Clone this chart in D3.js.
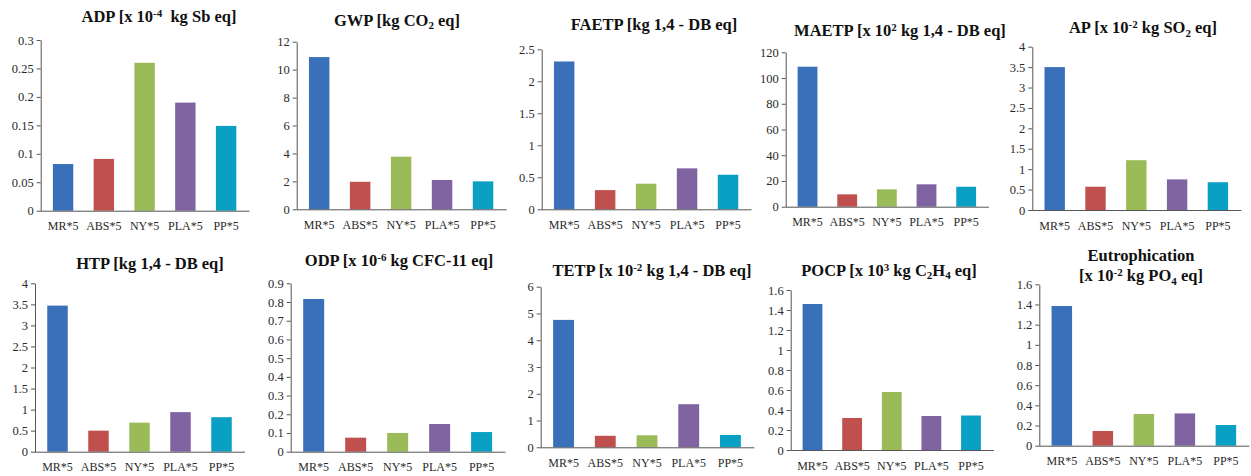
<!DOCTYPE html>
<html>
<head>
<meta charset="utf-8">
<script src="https://cdn.jsdelivr.net/npm/d3@7"></script>
<style>
  html, body { margin: 0; padding: 0; background: #fff; }
  svg { display: block; }
  text { font-family: "Liberation Serif", "Times New Roman", serif; white-space: pre; }
</style>
</head>
<body>
<svg id="chart" width="1251" height="476"></svg>
<script>
// Categories shared by every impact panel
const categories = ["MR*5", "ABS*5", "NY*5", "PLA*5", "PP*5"];

// Impact values per category (MR, ABS, NY, PLA, PP)
const adpValues   = [0.082, 0.091, 0.26, 0.19, 0.149];
const gwpValues   = [10.9, 1.97, 3.77, 2.1, 2.0];
const faetpValues = [2.31, 0.30, 0.40, 0.64, 0.54];
const maetpValues = [108.8, 9.6, 13.5, 17.4, 15.5];
const apValues    = [3.5, 0.57, 1.22, 0.75, 0.68];
const htpValues   = [3.47, 0.50, 0.69, 0.94, 0.82];
const odpValues   = [0.816, 0.075, 0.10, 0.148, 0.105];
const tetpValues  = [4.76, 0.43, 0.45, 1.61, 0.46];
const pocpValues  = [1.46, 0.32, 0.58, 0.34, 0.345];
const eutValues   = [1.385, 0.146, 0.314, 0.32, 0.205];

// Y-axis tick values
const adpTicks   = [0, 0.05, 0.1, 0.15, 0.2, 0.25, 0.3];
const gwpTicks   = [0, 2, 4, 6, 8, 10, 12];
const faetpTicks = [0, 0.5, 1, 1.5, 2, 2.5];
const maetpTicks = [0, 20, 40, 60, 80, 100, 120];
const apTicks    = [0, 0.5, 1, 1.5, 2, 2.5, 3, 3.5, 4];
const htpTicks   = [0, 0.5, 1, 1.5, 2, 2.5, 3, 3.5, 4];
const odpTicks   = [0, 0.1, 0.2, 0.3, 0.4, 0.5, 0.6, 0.7, 0.8, 0.9];
const tetpTicks  = [0, 1, 2, 3, 4, 5, 6];
const pocpTicks  = [0, 0.2, 0.4, 0.6, 0.8, 1, 1.2, 1.4, 1.6];
const eutTicks   = [0, 0.2, 0.4, 0.6, 0.8, 1, 1.2, 1.4, 1.6];

// Titles: each line is a list of [text, mode] with mode "", "sup" or "sub"
const adpTitle   = [[["ADP [x 10", ""], ["-4", "sup"], ["  kg Sb eq]", ""]]];
const gwpTitle   = [[["GWP [kg CO", ""], ["2", "sub"], [" eq]", ""]]];
const faetpTitle = [[["FAETP [kg 1,4 - DB eq]", ""]]];
const maetpTitle = [[["MAETP [x 10", ""], ["2", "sup"], [" kg 1,4 - DB eq]", ""]]];
const apTitle    = [[["AP [x 10", ""], ["-2", "sup"], [" kg SO", ""], ["2", "sub"], [" eq]", ""]]];
const htpTitle   = [[["HTP [kg 1,4 - DB eq]", ""]]];
const odpTitle   = [[["ODP [x 10", ""], ["-6", "sup"], [" kg CFC-11 eq]", ""]]];
const tetpTitle  = [[["TETP [x 10", ""], ["-2", "sup"], [" kg 1,4 - DB eq]", ""]]];
const pocpTitle  = [[["POCP [x 10", ""], ["3", "sup"], [" kg C", ""], ["2", "sub"], ["H", ""], ["4", "sub"], [" eq]", ""]]];
const eutTitle   = [[["Eutrophication", ""]],
                    [["[x 10", ""], ["-2", "sup"], [" kg PO", ""], ["4", "sub"], [" eq]", ""]]];

// Bar colours per category
const barColors = ["#3a70b9", "#c0504d", "#9bbb59", "#8064a2", "#0aa0c4"];

// Panel frames: y-axis x, plot top, baseline, band end, title centre and baseline(s)
const panels = [
  { values: adpValues,   ticks: adpTicks,   title: adpTitle,   ax: 40.7,   top: 40,    base: 210.7, right: 246.5,  tx: 159,  ty: [22] },
  { values: gwpValues,   ticks: gwpTicks,   title: gwpTitle,   ax: 296.7,  top: 41.7,  base: 209.3, right: 503.5,  tx: 397,  ty: [25.5] },
  { values: faetpValues, ticks: faetpTicks, title: faetpTitle, ax: 541.7,  top: 49.3,  base: 209.3, right: 748.5,  tx: 654,  ty: [29.5] },
  { values: maetpValues, ticks: maetpTicks, title: maetpTitle, ax: 785.7,  top: 52.3,  base: 206.7, right: 986,    tx: 900,  ty: [35.5] },
  { values: apValues,    ticks: apTicks,    title: apTitle,    ax: 1032.3, top: 46.7,  base: 210,   right: 1238.3, tx: 1143, ty: [33] },
  { values: htpValues,   ticks: htpTicks,   title: htpTitle,   ax: 35,     top: 283.3, base: 451.7, right: 242,    tx: 150,  ty: [268.5] },
  { values: odpValues,   ticks: odpTicks,   title: odpTitle,   ax: 290.7,  top: 283.3, base: 451.7, right: 502.6,  tx: 399,  ty: [266] },
  { values: tetpValues,  ticks: tetpTicks,  title: tetpTitle,  ax: 540.7,  top: 286.7, base: 447.3, right: 751.3,  tx: 652,  ty: [275.5] },
  { values: pocpValues,  ticks: pocpTicks,  title: pocpTitle,  ax: 790.7,  top: 290,   base: 450,   right: 990.8,  tx: 889,  ty: [275.5] },
  { values: eutValues,   ticks: eutTicks,   title: eutTitle,   ax: 1039.3, top: 284.3, base: 445.7, right: 1246.4, tx: 1141, ty: [261, 281] }
];

const svg = d3.select("#chart");
const fmt = d => String(+d.toFixed(4));

panels.forEach(p => {
  const g = svg.append("g");

  const x = d3.scaleBand()
    .domain(categories)
    .range([p.ax + 2, p.right])
    .paddingInner(0.5)
    .paddingOuter(0.25);

  const y = d3.scaleLinear()
    .domain([0, d3.max(p.ticks)])
    .range([p.base, p.top]);

  // Bars
  g.selectAll("rect.bar")
    .data(p.values)
    .join("rect")
    .attr("class", "bar")
    .attr("x", (d, i) => x(categories[i]))
    .attr("y", d => y(d))
    .attr("width", x.bandwidth())
    .attr("height", d => y(0) - y(d))
    .attr("fill", (d, i) => barColors[i]);

  // Value axis
  const yAxis = g.append("g")
    .attr("transform", `translate(${p.ax},0)`)
    .call(d3.axisLeft(y).tickValues(p.ticks).tickFormat(fmt).tickSize(4).tickPadding(3).tickSizeOuter(0));
  yAxis.select(".domain").attr("stroke", "#555").attr("stroke-width", 1);
  yAxis.selectAll(".tick line").attr("stroke", "#555");
  yAxis.selectAll(".tick text")
    .attr("fill", "#2a2a2a")
    .style("font-size", "12.5px")
    .style("font-family", "'Liberation Serif', serif");

  // Category axis
  const xAxis = g.append("g")
    .attr("transform", `translate(0,${p.base})`)
    .call(d3.axisBottom(x).tickSize(0).tickPadding(11));
  xAxis.select(".domain")
    .attr("d", `M${p.ax},0.5H${p.right + 3}`)
    .attr("stroke", "#555")
    .attr("stroke-width", 1);
  xAxis.selectAll(".tick text")
    .attr("fill", "#2a2a2a")
    .style("font-size", "12px")
    .style("font-family", "'Liberation Serif', serif");

  // Title with super/subscripts
  p.title.forEach((line, li) => {
    const t = g.append("text")
      .attr("x", p.tx)
      .attr("y", p.ty[li])
      .attr("text-anchor", "middle")
      .attr("font-weight", "bold")
      .attr("fill", "#111")
      .style("font-size", "16.5px");
    let shift = 0;
    line.forEach(([txt, mode]) => {
      const target = mode === "sup" ? -5 : mode === "sub" ? 3.5 : 0;
      t.append("tspan")
        .attr("dy", target - shift)
        .style("font-size", mode ? "11px" : "16.5px")
        .text(txt);
      shift = target;
    });
  });
});
</script>
</body>
</html>
